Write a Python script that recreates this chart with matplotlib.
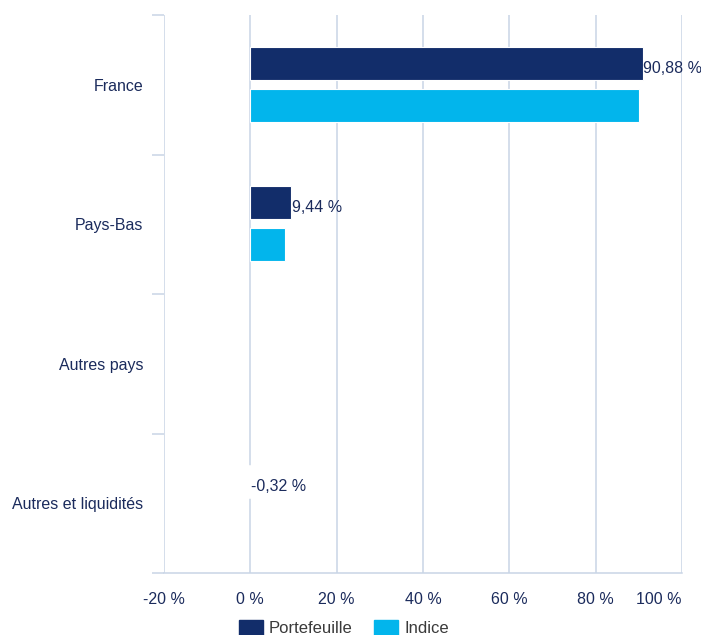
import matplotlib.pyplot as plt
import numpy as np
from matplotlib.patches import Patch

plt.rcParams['font.family'] = ['Liberation Sans', 'DejaVu Sans']

categories = ['France', 'Pays-Bas', 'Autres pays', 'Autres et liquidités']
portefeuille = [90.88, 9.44, 0.0, -0.32]
indice = [90.1, 8.1, 0.0, 0.0]
labels = ['90,88 %', '9,44 %', None, '-0,32 %']
xticks = [-20, 0, 20, 40, 60, 80, 100]

navy = '#122d6a'
cyan = '#02b5ec'
grid = '#c9d5e6'
txt = '#1b2b5c'
fs = 11.5

fig = plt.figure(figsize=(7.01, 6.35), dpi=100)
ax = fig.add_axes([164/701, 1-573/635, (682-164)/701, (573-15)/635])

y = np.arange(len(categories)) + 0.5
h = 0.236
# zero values are not drawn at all
for yi, p, q in zip(y, portefeuille, indice):
    if p != 0:
        ax.barh(yi - 0.154, p, height=h, color=navy, edgecolor='white', linewidth=0.8, zorder=3)
    if q != 0:
        ax.barh(yi + 0.146, q, height=h, color=cyan, edgecolor='white', linewidth=0.8, zorder=3)

for yi, v, lab in zip(y, portefeuille, labels):
    if lab is None:
        continue
    ax.text(max(v, 0) + 0.2, yi - 0.13, lab, ha='left', va='center_baseline',
            fontsize=fs, color=txt, zorder=4)

ax.set_xlim(-20, 100)
ax.set_ylim(4, 0)
ax.set_xticks(xticks)
ax.set_xticklabels(['%d %%' % t for t in xticks], fontsize=fs, color=txt)
ax.get_xticklabels()[-1].set_ha('right')
ax.tick_params(axis='x', length=0, pad=14)
ax.grid(axis='x', color=grid, linewidth=1.1, zorder=0)

ax.set_yticks([0, 1, 2, 3, 4])
ax.set_yticklabels([])
ax.tick_params(axis='y', which='major', length=8.6, color=grid, width=1.1)
ax.set_yticks(y, minor=True)
ax.set_yticklabels(categories, minor=True, fontsize=fs, color=txt)
ax.tick_params(axis='y', which='minor', length=0, pad=15)

for s in ['top', 'right', 'left']:
    ax.spines[s].set_visible(False)
ax.spines['bottom'].set_color(grid)
ax.spines['bottom'].set_linewidth(1.1)

handles = [Patch(color=navy, label='Portefeuille'), Patch(color=cyan, label='Indice')]
fig.legend(handles=handles, loc='center', bbox_to_anchor=(344/701, 1-628/635), ncol=2,
           frameon=False, fontsize=12, handlelength=1.44, handleheight=1.08,
           handletextpad=0.36, columnspacing=1.3, labelcolor='#3a3a3a')

fig.savefig('out.png', dpi=100)
